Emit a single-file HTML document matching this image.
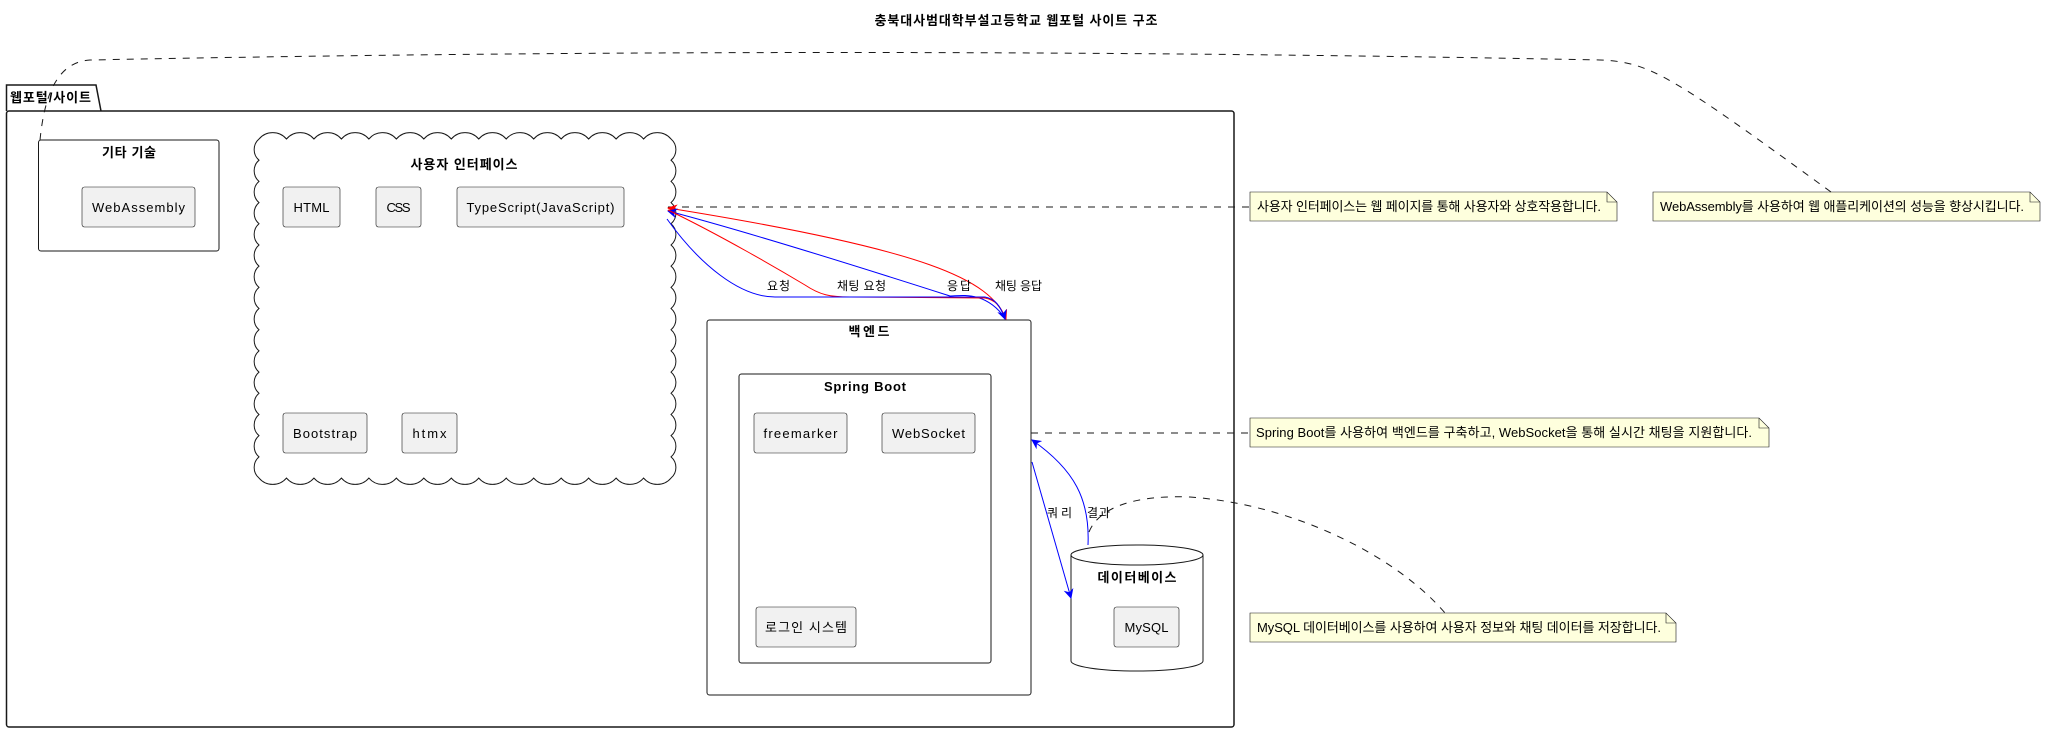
<!DOCTYPE html>
<html><head><meta charset="utf-8"><style>
html,body{margin:0;padding:0;background:#fff;}
svg{display:block;}
text{font-family:"Liberation Sans","Noto Sans CJK KR",sans-serif;fill:#000;}
.b{font-weight:bold;}
.comp{fill:#F1F1F1;stroke:#181818;stroke-width:0.6;}
.note{fill:#FEFFDD;stroke:#181818;stroke-width:0.6;}
.dash{fill:none;stroke:#181818;stroke-width:1;stroke-dasharray:7,7;}
</style></head><body>
<svg width="2047" height="733" viewBox="0 0 2047 733" xmlns="http://www.w3.org/2000/svg">
<defs>
<marker id="ar" viewBox="0 0 10 10" refX="9" refY="5" markerWidth="10" markerHeight="10" orient="auto" markerUnits="userSpaceOnUse"><path d="M0,0 L10,5 L0,10 L3,5 Z" fill="#FF0000"/></marker>
<marker id="ab" viewBox="0 0 10 10" refX="9" refY="5" markerWidth="10" markerHeight="10" orient="auto" markerUnits="userSpaceOnUse"><path d="M0,0 L10,5 L0,10 L3,5 Z" fill="#0000FF"/></marker>
</defs>

<text x="1016" y="25" class="b" font-size="13" text-anchor="middle" textLength="283">충북대사범대학부설고등학교 웹포털 사이트 구조</text>

<!-- package -->
<path d="M6.5,111 L6.5,85 L96,85 L101,111" fill="none" stroke="#181818" stroke-width="1.5"/>
<rect x="6.5" y="111" width="1227.5" height="616" rx="2.5" fill="none" stroke="#181818" stroke-width="1.5"/>
<text x="10" y="102" class="b" font-size="13" textLength="81">웹포털/사이트</text>

<!-- 기타 기술 -->
<rect x="38.5" y="140" width="180.5" height="111" rx="2.5" fill="#fff" stroke="#181818" stroke-width="1"/>
<text x="129" y="157" class="b" font-size="13" text-anchor="middle" textLength="54">기타 기술</text>
<rect x="82" y="187" width="113" height="40" rx="2.5" class="comp"/>
<text x="138.5" y="212" font-size="13" text-anchor="middle" textLength="93">WebAssembly</text>

<!-- cloud -->
<path d="M259,139 a18,18 0 0 1 27.47,0 a18,18 0 0 1 27.47,0 a18,18 0 0 1 27.47,0 a18,18 0 0 1 27.47,0 a18,18 0 0 1 27.47,0 a18,18 0 0 1 27.47,0 a18,18 0 0 1 27.47,0 a18,18 0 0 1 27.47,0 a18,18 0 0 1 27.47,0 a18,18 0 0 1 27.47,0 a18,18 0 0 1 27.47,0 a18,18 0 0 1 27.47,0 a18,18 0 0 1 27.47,0 a18,18 0 0 1 27.47,0 a18,18 0 0 1 27.47,0
a14,14 0 0 1 0,21.19 a14,14 0 0 1 0,21.19 a14,14 0 0 1 0,21.19 a14,14 0 0 1 0,21.19 a14,14 0 0 1 0,21.19 a14,14 0 0 1 0,21.19 a14,14 0 0 1 0,21.19 a14,14 0 0 1 0,21.19 a14,14 0 0 1 0,21.19 a14,14 0 0 1 0,21.19 a14,14 0 0 1 0,21.19 a14,14 0 0 1 0,21.19 a14,14 0 0 1 0,21.19 a14,14 0 0 1 0,21.19 a14,14 0 0 1 0,21.19 a14,14 0 0 1 0,21.19
a18,18 0 0 1 -27.47,0 a18,18 0 0 1 -27.47,0 a18,18 0 0 1 -27.47,0 a18,18 0 0 1 -27.47,0 a18,18 0 0 1 -27.47,0 a18,18 0 0 1 -27.47,0 a18,18 0 0 1 -27.47,0 a18,18 0 0 1 -27.47,0 a18,18 0 0 1 -27.47,0 a18,18 0 0 1 -27.47,0 a18,18 0 0 1 -27.47,0 a18,18 0 0 1 -27.47,0 a18,18 0 0 1 -27.47,0 a18,18 0 0 1 -27.47,0 a18,18 0 0 1 -27.47,0
a14,14 0 0 1 0,-21.19 a14,14 0 0 1 0,-21.19 a14,14 0 0 1 0,-21.19 a14,14 0 0 1 0,-21.19 a14,14 0 0 1 0,-21.19 a14,14 0 0 1 0,-21.19 a14,14 0 0 1 0,-21.19 a14,14 0 0 1 0,-21.19 a14,14 0 0 1 0,-21.19 a14,14 0 0 1 0,-21.19 a14,14 0 0 1 0,-21.19 a14,14 0 0 1 0,-21.19 a14,14 0 0 1 0,-21.19 a14,14 0 0 1 0,-21.19 a14,14 0 0 1 0,-21.19 a14,14 0 0 1 0,-21.19 Z" fill="#fff" stroke="#181818" stroke-width="1"/>
<text x="464" y="169" class="b" font-size="13" text-anchor="middle" textLength="107">사용자 인터페이스</text>
<rect x="283" y="187" width="57" height="40" rx="2.5" class="comp"/>
<text x="311.5" y="212" font-size="13" text-anchor="middle" textLength="36">HTML</text>
<rect x="376" y="187" width="45" height="40" rx="2.5" class="comp"/>
<text x="398.5" y="212" font-size="13" text-anchor="middle" textLength="24">CSS</text>
<rect x="457" y="187" width="167" height="40" rx="2.5" class="comp"/>
<text x="540.5" y="212" font-size="13" text-anchor="middle" textLength="148">TypeScript(JavaScript)</text>
<rect x="283" y="413" width="84" height="40" rx="2.5" class="comp"/>
<text x="325" y="438" font-size="13" text-anchor="middle" textLength="64">Bootstrap</text>
<rect x="402" y="413" width="55" height="40" rx="2.5" class="comp"/>
<text x="429.5" y="438" font-size="13" text-anchor="middle" textLength="34">htmx</text>

<!-- backend -->
<rect x="707" y="320" width="324" height="375" rx="2.5" fill="#fff" stroke="#181818" stroke-width="1"/>
<text x="869" y="336" class="b" font-size="13" text-anchor="middle" textLength="41">백엔드</text>
<rect x="739" y="374" width="252" height="289" rx="2.5" fill="#fff" stroke="#181818" stroke-width="1"/>
<text x="865" y="391" class="b" font-size="13" text-anchor="middle" textLength="82">Spring Boot</text>
<rect x="754" y="413" width="93" height="40" rx="2.5" class="comp"/>
<text x="800.5" y="438" font-size="13" text-anchor="middle" textLength="74">freemarker</text>
<rect x="882" y="413" width="93" height="40" rx="2.5" class="comp"/>
<text x="928.5" y="438" font-size="13" text-anchor="middle" textLength="73">WebSocket</text>
<rect x="756" y="607" width="100" height="40" rx="2.5" class="comp"/>
<text x="806" y="632" font-size="13" text-anchor="middle" textLength="82">로그인 시스템</text>

<!-- database -->
<path d="M1071,555 L1071,661 A66,10 0 0 0 1203,661 L1203,555 A66,10 0 0 0 1071,555 A66,10 0 0 0 1203,555" fill="#fff" stroke="#181818" stroke-width="1"/>
<text x="1137" y="582" class="b" font-size="13" text-anchor="middle" textLength="79">데이터베이스</text>
<rect x="1114" y="607" width="65" height="40" rx="2.5" class="comp"/>
<text x="1146.5" y="632" font-size="13" text-anchor="middle" textLength="44">MySQL</text>

<!-- notes -->
<path d="M1250,192 L1607,192 L1617,202 L1617,221 L1250,221 Z" class="note"/>
<path d="M1607,192 L1607,202 L1617,202" fill="none" stroke="#181818" stroke-width="0.6"/>
<text x="1257" y="211" font-size="13" textLength="344">사용자 인터페이스는 웹 페이지를 통해 사용자와 상호작용합니다.</text>

<path d="M1653,192 L2030,192 L2040,202 L2040,221 L1653,221 Z" class="note"/>
<path d="M2030,192 L2030,202 L2040,202" fill="none" stroke="#181818" stroke-width="0.6"/>
<text x="1660" y="211" font-size="13" textLength="364">WebAssembly를 사용하여 웹 애플리케이션의 성능을 향상시킵니다.</text>

<path d="M1250,418 L1759,418 L1769,428 L1769,447 L1250,447 Z" class="note"/>
<path d="M1759,418 L1759,428 L1769,428" fill="none" stroke="#181818" stroke-width="0.6"/>
<text x="1256" y="437" font-size="13" textLength="496">Spring Boot를 사용하여 백엔드를 구축하고, WebSocket을 통해 실시간 채팅을 지원합니다.</text>

<path d="M1250,613 L1666,613 L1676,623 L1676,642 L1250,642 Z" class="note"/>
<path d="M1666,613 L1666,623 L1676,623" fill="none" stroke="#181818" stroke-width="0.6"/>
<text x="1257" y="632" font-size="13" textLength="404">MySQL 데이터베이스를 사용하여 사용자 정보와 채팅 데이터를 저장합니다.</text>

<!-- dashed note links -->
<path class="dash" d="M40,140 C44,100 55,62 90,60 Q840,45 1600,60 C1650,62 1670,75 1831,192"/>
<path class="dash" d="M668,207 L1250,207"/>
<path class="dash" d="M1031,433 L1250,433"/>
<path class="dash" d="M1089,532 C1100,505 1140,495 1190,497 C1300,505 1400,560 1445,613"/>

<!-- arrows cloud <-> backend -->
<path d="M1006,319 C990,280 930,250 668,208" fill="none" stroke="#FF0000" stroke-width="1" marker-end="url(#ar)"/>
<path d="M1005,318 C985,290 960,296 950,296 C900,280 760,235 668,211" fill="none" stroke="#0000FF" stroke-width="1" marker-end="url(#ab)"/>
<path d="M668,210 C720,235 780,270 805,285 C820,295 830,297 850,297 L985,298 C995,300 1000,305 1006,319" fill="none" stroke="#FF0000" stroke-width="1" marker-end="url(#ar)"/>
<path d="M667,219 C700,265 740,297 775,297 L985,297 C995,299 1000,305 1005,319" fill="none" stroke="#0000FF" stroke-width="1" marker-end="url(#ab)"/>
<text x="767" y="290" font-size="12" textLength="23">요청</text>
<text x="837" y="290" font-size="12" textLength="49">채팅 요청</text>
<text x="947" y="290" font-size="12" textLength="24">응답</text>
<text x="995" y="290" font-size="12" textLength="47">채팅 응답</text>

<!-- backend <-> db -->
<path d="M1032,462 L1071,598" fill="none" stroke="#0000FF" stroke-width="1" marker-end="url(#ab)"/>
<path d="M1088,545 C1090,500 1075,470 1032,440" fill="none" stroke="#0000FF" stroke-width="1" marker-end="url(#ab)"/>
<text x="1047" y="517" font-size="12" textLength="25">쿼리</text>
<text x="1087" y="517" font-size="12" textLength="23">결과</text>
</svg>
</body></html>
